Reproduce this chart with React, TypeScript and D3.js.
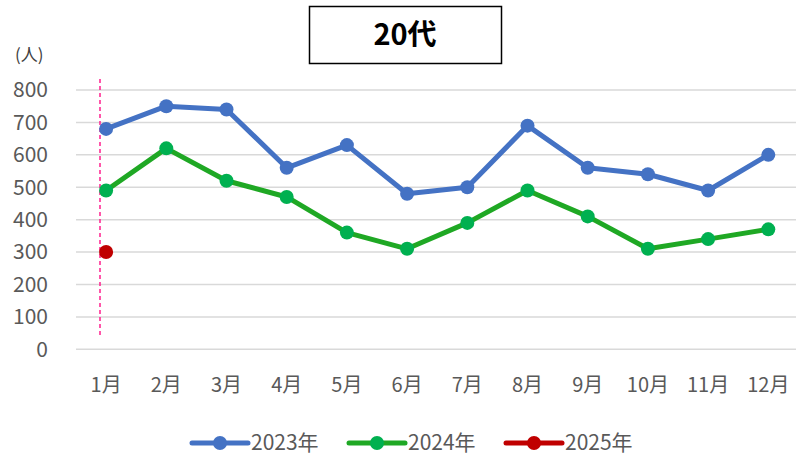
import * as d3 from "d3";

const width = 796;
const height = 459;

const months = ["1月", "2月", "3月", "4月", "5月", "6月", "7月", "8月", "9月", "10月", "11月", "12月"];
const y2023 = [680, 750, 740, 560, 630, 480, 500, 690, 560, 540, 490, 600];
const y2024 = [490, 620, 520, 470, 360, 310, 390, 490, 410, 310, 340, 370];
const y2025 = [300];
const yTicks = [0, 100, 200, 300, 400, 500, 600, 700, 800];

const series = [
  { name: "2023年", values: y2023, line: "#4472C4", dot: "#4472C4" },
  { name: "2024年", values: y2024, line: "#1FA824", dot: "#00B050" },
  { name: "2025年", values: y2025, line: "#C00000", dot: "#C00000" },
];

const font = "'Noto Sans CJK JP', 'Noto Sans', sans-serif";

export default function App() {
  const x = d3.scaleBand<string>().domain(months).range([76, 798.4]);
  const y = d3.scaleLinear().domain([0, 800]).range([349.3, 90]);
  const cx = (m: string) => (x(m) ?? 0) + x.bandwidth() / 2;

  const line = d3
    .line<number>()
    .x((_, i) => cx(months[i]))
    .y((d) => y(d));

  const legendX = [192, 349, 506];

  return (
    <svg
      width={width}
      height={height}
      style={{ position: "absolute", left: 0, top: 0, background: "#fff" }}
      fontFamily={font}
    >
      {/* gridlines */}
      {yTicks.map((t) => (
        <g key={t}>
          <line x1={76} x2={798} y1={y(t)} y2={y(t)} stroke="#D9D9D9" strokeWidth={1.5} />
          <text x={48} y={y(t)} dy="0.35em" textAnchor="end" fontSize={21} fill="#595959">
            {t}
          </text>
        </g>
      ))}
      <text x={15} y={61} fontSize={17} fill="#404040">(人)</text>

      {/* x labels */}
      {months.map((m) => (
        <text key={m} x={cx(m)} y={385} dy="0.35em" textAnchor="middle" fontSize={20} fill="#595959">
          {m}
        </text>
      ))}

      {/* dashed marker line */}
      <line x1={100} x2={100} y1={79} y2={337} stroke="#FF1F8F" strokeWidth={1.5} strokeDasharray="4,3" />

      {/* series */}
      {series.map((s) => (
        <g key={s.name}>
          {s.values.length > 1 && (
            <path d={line(s.values) ?? ""} fill="none" stroke={s.line} strokeWidth={5} strokeLinejoin="round" />
          )}
          {s.values.map((v, i) => (
            <circle key={i} cx={cx(months[i])} cy={y(v)} r={7} fill={s.dot} />
          ))}
        </g>
      ))}

      {/* title box */}
      <rect x={309.5} y={6.5} width={192} height={57} fill="#fff" stroke="#000" strokeWidth={1.5} />
      <text x={405} y={35} dy="0.35em" textAnchor="middle" fontSize={29} fontWeight="bold" fill="#000">
        20代
      </text>

      {/* legend */}
      {series.map((s, i) => (
        <g key={s.name} transform={`translate(${legendX[i]},443)`}>
          <line x1={0} x2={56} y1={0} y2={0} stroke={s.line} strokeWidth={5} strokeLinecap="round" />
          <circle cx={28} cy={0} r={7} fill={s.dot} />
          <text x={59} y={0} dy="0.35em" fontSize={21} fill="#595959">
            {s.name}
          </text>
        </g>
      ))}
    </svg>
  );
}
